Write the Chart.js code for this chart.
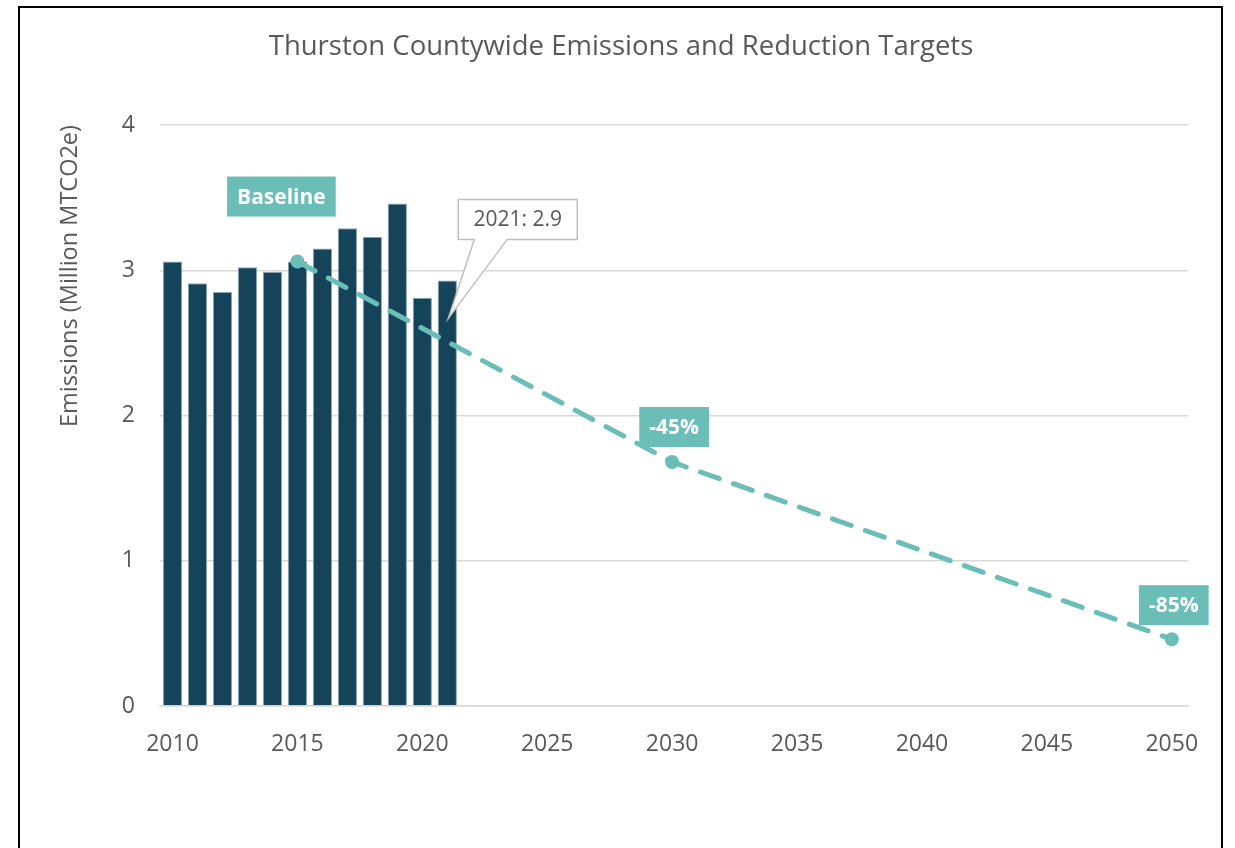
<!DOCTYPE html>
<html>
<head>
<meta charset="utf-8">
<script src="https://cdn.jsdelivr.net/npm/chart.js@4.4.1/dist/chart.umd.min.js"></script>
<style>
  html, body { margin: 0; padding: 0; background: #fff; }
  #wrap { width: 1235px; height: 848px; }
</style>
</head>
<body>
<div id="wrap"><canvas id="myChart" width="1235" height="848"></canvas></div>
<script>
// data
const years = [2010, 2011, 2012, 2013, 2014, 2015, 2016, 2017, 2018, 2019, 2020, 2021];
const emissions = [3.06, 2.91, 2.85, 3.02, 2.99, 3.06, 3.15, 3.29, 3.23, 3.46, 2.81, 2.93];
const targetYears = [2015, 2030, 2050];
const targetValues = [3.06, 1.68, 0.46];
const targetLabels = ["Baseline", "-45%", "-85%"];
const xTicks = [2010, 2015, 2020, 2025, 2030, 2035, 2040, 2045, 2050];
const yTicks = [0, 1, 2, 3, 4];
const calloutText = "2021: 2.9";

const FONT = "'Open Sans', 'Noto Sans', sans-serif";
const GREY = "#595959";
const TEAL = "#6bbdb7";
const NAVY = "#15445a";

// label boxes, offsets from their point (px)
const labelOffsets = [[-16, -65], [2, -35], [2, -34]];

const decor = {
  id: "decor",
  beforeDraw(c) {
    const ctx = c.ctx;
    ctx.save();
    ctx.strokeStyle = "#000";
    ctx.lineWidth = 2;
    ctx.beginPath();
    ctx.moveTo(19, 848);
    ctx.lineTo(19, 7);
    ctx.lineTo(1222, 7);
    ctx.lineTo(1222, 848);
    ctx.stroke();
    ctx.restore();
  },
  afterDatasetsDraw(c) {
    const ctx = c.ctx;
    const xs = c.scales.x, ys = c.scales.y;
    ctx.save();

    // teal target labels
    ctx.font = "bold 21px " + FONT;
    ctx.textAlign = "center";
    ctx.textBaseline = "middle";
    targetLabels.forEach((t, i) => {
      const px = xs.getPixelForValue(targetYears[i]) + labelOffsets[i][0];
      const py = ys.getPixelForValue(targetValues[i]) + labelOffsets[i][1];
      const w = ctx.measureText(t).width + 20;
      const h = 40;
      ctx.fillStyle = TEAL;
      ctx.fillRect(px - w / 2, py - h / 2, w, h);
      ctx.fillStyle = "#fff";
      ctx.fillText(t, px, py + 1);
    });

    // callout for 2021
    const last = years.length - 1;
    const tipX = xs.getPixelForValue(years[last]) + 1;
    const tipY = ys.getPixelForValue(emissions[last]) + 38;
    const bx = tipX + 10, by = tipY - 119, bw = 119, bh = 40;
    ctx.font = "21px " + FONT;
    ctx.fillStyle = "#fff";
    ctx.strokeStyle = "#bfbfbf";
    ctx.lineWidth = 1.5;
    ctx.beginPath();
    ctx.moveTo(bx, by);
    ctx.lineTo(bx + bw, by);
    ctx.lineTo(bx + bw, by + bh);
    ctx.lineTo(bx + 49, by + bh);
    ctx.lineTo(tipX, tipY);
    ctx.lineTo(bx + 16, by + bh);
    ctx.lineTo(bx, by + bh);
    ctx.closePath();
    ctx.fill();
    ctx.stroke();
    ctx.fillStyle = GREY;
    ctx.fillText(calloutText, bx + bw / 2, by + bh / 2 + 1);
    ctx.restore();
  }
};

new Chart(document.getElementById("myChart"), {
  type: "bar",
  data: {
    datasets: [
      {
        type: "line",
        data: targetYears.map((y, i) => ({ x: y, y: targetValues[i] })),
        borderColor: TEAL,
        backgroundColor: TEAL,
        borderWidth: 5,
        borderDash: [20, 15],
        borderCapStyle: "round",
        pointRadius: 7,
        pointBackgroundColor: TEAL,
        pointBorderWidth: 0,
        tension: 0,
        order: 0
      },
      {
        data: years.map((y, i) => ({ x: y, y: emissions[i] })),
        backgroundColor: NAVY,
        borderColor: "#8aa4b1",
        borderWidth: 1,
        categoryPercentage: 1,
        barPercentage: 0.77,
        order: 1
      }
    ]
  },
  options: {
    responsive: false,
    animation: false,
    layout: { padding: { left: 54, right: 47, top: 0, bottom: 0 } },
    plugins: {
      legend: { display: false },
      tooltip: { enabled: false },
      title: {
        display: true,
        text: "Thurston Countywide Emissions and Reduction Targets",
        color: GREY,
        font: { family: FONT, size: 27.5, weight: "normal" },
        padding: { top: 31, bottom: 61 }
      }
    },
    scales: {
      x: {
        type: "linear",
        offset: false,
        min: 2009.5,
        max: 2050.65,
        afterBuildTicks: s => { s.ticks = xTicks.map(v => ({ value: v })); },
        afterFit: s => { s.height = 142; },
        grid: { display: false, offset: false },
        border: { display: true, color: "#d9d9d9", width: 1.5 },
        ticks: {
          color: GREY,
          font: { family: FONT, size: 23 },
          padding: 17,
          maxRotation: 0,
          callback: v => String(v)
        }
      },
      y: {
        min: 0,
        max: 4,
        afterBuildTicks: s => { s.ticks = yTicks.map(v => ({ value: v })); },
        afterFit: s => { s.width = 106; },
        grid: { color: "#d9d9d9", lineWidth: 1.5, drawTicks: false },
        border: { display: false },
        ticks: {
          color: GREY,
          font: { family: FONT, size: 23 },
          padding: 25
        },
        title: {
          display: true,
          text: "Emissions (Million MTCO2e)",
          align: "end",
          color: GREY,
          font: { family: FONT, size: 23.5, weight: "normal" },
          padding: { top: 2, bottom: 0 }
        }
      }
    }
  },
  plugins: [decor]
});
</script>
</body>
</html>
